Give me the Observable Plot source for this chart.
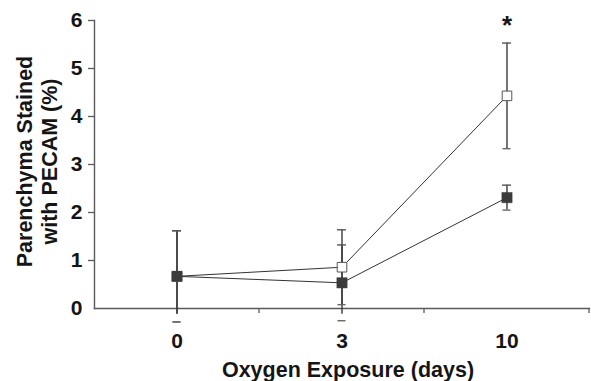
<!DOCTYPE html>
<html>
<head>
<meta charset="utf-8">
<script src="https://cdn.jsdelivr.net/npm/d3@7"></script>
<script src="https://cdn.jsdelivr.net/npm/@observablehq/plot@0.6"></script>
<style>
  html, body { margin: 0; padding: 0; background: white; }
</style>
</head>
<body>
<div id="chart"></div>
<script>
// ---- data ----
const days = ["0", "3", "10"];
const openMean = [0.67, 0.86, 4.43];
const openErr = [0.95, 0.78, 1.10];
const filledMean = [0.67, 0.535, 2.31];
const filledErr = [0.95, 0.79, 0.26];
const yTicks = [0, 1, 2, 3, 4, 5, 6];
const starDays = ["10"];
const starText = "*";
const xLabel = "Oxygen Exposure (days)";
const yLabel = "Parenchyma Stained\nwith PECAM (%)";

// ---- table ----
const rows = days.flatMap((d, i) => [
  {day: d, group: "open", mean: openMean[i], err: openErr[i]},
  {day: d, group: "filled", mean: filledMean[i], err: filledErr[i]}
]);
const openRows = rows.filter(r => r.group === "open");
const filledRows = rows.filter(r => r.group === "filled");
const stars = starDays.map(d => {
  const r = openRows.find(o => o.day === d);
  return {day: d, y: r.mean + r.err};
});

const W = 591, H = 381, ML = 94, MR = 2, MT = 20, MB = 73;
const band = (W - ML - MR) / days.length;
const capW = 9;
const capInset = (band - capW) / 2;
const axisColor = "#5a5a5a";
const lineColor = "#333";
const font = "'Liberation Sans', Arial, Helvetica, sans-serif";

// boundary ticks along the x axis, derived from the band scale
function bandTicks(index, scales, values, dimensions) {
  const x = scales.x;
  const step = x(days[1]) - x(days[0]);
  const pos = days.slice(1).map(d => x(d)).concat([x(days[days.length - 1]) + step]);
  const y0 = dimensions.height - dimensions.marginBottom;
  const g = d3.create("svg:g").attr("stroke", axisColor).attr("stroke-width", 1.3);
  for (const p of pos) {
    g.append("line").attr("x1", p).attr("x2", p).attr("y1", y0).attr("y2", y0 + 5);
  }
  return g.node();
}

const chart = Plot.plot({
  width: W,
  height: H,
  marginLeft: ML,
  marginRight: MR,
  marginTop: MT,
  marginBottom: MB,
  x: {type: "band", domain: days, padding: 0, axis: null, label: null},
  y: {domain: [0, 6], axis: null, label: null},
  style: {fontFamily: font, fontWeight: "bold", color: "#151515", background: "white"},
  marks: [
    Plot.frame({anchor: "left", stroke: axisColor, strokeWidth: 1.4}),
    Plot.frame({anchor: "bottom", stroke: axisColor, strokeWidth: 1.4}),
    Plot.axisY({ticks: yTicks.slice(1), tickSize: 6, tickFormat: () => "", label: null, stroke: axisColor, strokeWidth: 1.3}),
    Plot.axisY({ticks: yTicks, tickSize: 0, tickPadding: 12, label: null, fontSize: 21, fontWeight: "bold", tickFormat: d => String(d)}),
    Plot.axisX({tickSize: 0, tickPadding: 25, label: null, fontSize: 21, fontWeight: "bold"}),
    bandTicks,
    Plot.text([yLabel], {frameAnchor: "left", rotate: -90, dx: -58, dy: -3, fontSize: 21.5, fontWeight: "bold", lineHeight: 1.18, lineAnchor: "middle", textAnchor: "middle"}),
    Plot.text([xLabel], {frameAnchor: "bottom", dx: 6, dy: 68, fontSize: 21.5, fontWeight: "bold", lineAnchor: "bottom", textAnchor: "middle"}),
    // connecting lines
    Plot.line(openRows, {x: "day", y: "mean", stroke: lineColor, strokeWidth: 1}),
    Plot.line(filledRows, {x: "day", y: "mean", stroke: lineColor, strokeWidth: 1}),
    // error bars (vertical part stops just below the axis)
    Plot.ruleX(rows, {x: "day", y1: d => Math.max(d.mean - d.err, -0.12), y2: d => d.mean + d.err, stroke: "#3a3a3a", strokeWidth: 1.4}),
    Plot.tickY(rows, {x: "day", y: d => d.mean + d.err, insetLeft: capInset, insetRight: capInset, stroke: "#555", strokeWidth: 1.4}),
    Plot.tickY(rows, {x: "day", y: d => d.mean - d.err, insetLeft: capInset + 0.5, insetRight: capInset + 0.5, stroke: "#666", strokeWidth: 1.4}),
    // markers
    Plot.dot(openRows, {x: "day", y: "mean", symbol: "square", r: 5.4, fill: "white", stroke: "#555", strokeWidth: 1}),
    Plot.dot(filledRows, {x: "day", y: "mean", symbol: "square", r: 5.8, fill: "#3b3b3b", stroke: "#3b3b3b", strokeWidth: 0.5}),
    // significance marker
    Plot.text(stars, {x: "day", y: "y", text: () => starText, fontSize: 26, fontWeight: "bold", lineAnchor: "bottom", dy: -9})
  ]
});
document.getElementById("chart").appendChild(chart);
</script>
</body>
</html>
